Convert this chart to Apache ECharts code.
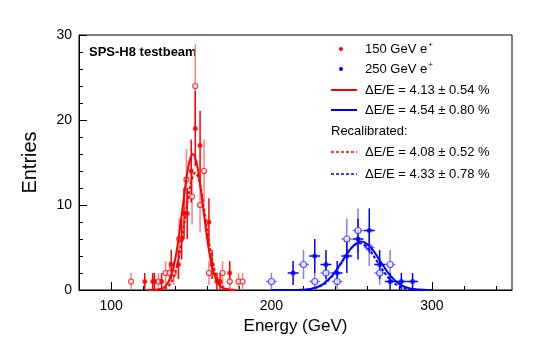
<!DOCTYPE html>
<html>
<head>
<meta charset="utf-8">
<script src="https://cdn.jsdelivr.net/npm/echarts@6/dist/echarts.min.js"></script>
<style>
  html, body { margin: 0; padding: 0; background: #fff; }
  #chart { width: 545px; height: 340px; }
</style>
</head>
<body>
<div id="chart"></div>
<script>
// ---- data ----
// 150 GeV e+ (filled markers)
const red150E   = [121, 126, 127, 131.5, 137.5, 142, 144, 145.5, 147.5, 150, 152.5, 155.5, 161, 163, 166, 168, 174];
const red150N   = [1, 1, 1, 1, 3, 3, 6, 9, 9, 14, 19, 17, 8, 3, 1, 1, 2];
const red150Err = [1, 1, 1, 1, 1.7, 1.7, 2.4, 3, 3, 3.7, 4.4, 4.1, 2.8, 1.7, 1, 1, 1.4];
// 150 GeV recalibrated (open markers)
const red150rE   = [112.5, 129.5, 134, 136.5, 139, 142.5, 147, 150.5, 152.5, 155.5, 158, 161, 169.5, 174, 179.5, 182];
const red150rN   = [1, 1, 2, 2, 2, 6, 13, 11, 24, 10, 14, 2, 2, 1, 1, 1];
const red150rErr = [1, 1, 1.4, 1.4, 1.4, 2.4, 3.6, 3.3, 4.9, 3.2, 3.7, 1.4, 1.4, 1, 1, 1];
// 250 GeV e+ (filled markers)
const blue250E   = [213.5, 227, 234, 241, 247, 254, 261, 267.5, 274, 281, 288];
const blue250N   = [2, 4, 3, 2, 4, 6, 7, 3, 1, 1, 1];
const blue250Err = [1.4, 2, 1.7, 1.4, 2, 2.4, 2.6, 1.7, 1, 1, 1];
// 250 GeV recalibrated (open markers)
const blue250rE   = [200, 220, 227, 234, 241, 247, 254, 261, 267.5, 274];
const blue250rN   = [1, 3, 1, 2, 1, 6, 7, 5, 2, 3];
const blue250rErr = [1, 1.7, 1, 1.4, 1, 2.4, 2.6, 2.2, 1.4, 1.7];

// fitted curves, points
const fitRedE  = [123, 128, 132, 135, 138, 141, 144, 147, 149, 151, 153, 155, 158, 161, 164, 167, 170, 174, 178];
const fitRedN  = [0, 0.03, 0.2, 0.7, 2.0, 4.7, 8.8, 13.2, 15.2, 16, 15.2, 13.2, 8.8, 4.7, 2.0, 0.7, 0.2, 0.03, 0];
const fitRedRE = [127, 132, 135, 138, 141, 144, 147, 150, 152.5, 155, 158, 161, 164, 167, 170, 173, 178];
const fitRedRN = [0, 0.08, 0.33, 1.06, 2.75, 5.7, 9.5, 12.8, 13.8, 12.8, 9.5, 5.7, 2.75, 1.06, 0.33, 0.08, 0];
const fitBlueE  = [200, 215, 225, 232, 238, 244, 250, 256, 262, 268, 274, 280, 287, 295, 300];
const fitBlueN  = [0, 0.01, 0.16, 0.67, 1.71, 3.34, 4.99, 5.7, 4.99, 3.34, 1.71, 0.67, 0.16, 0.02, 0];
const fitBlueRE = [205, 215, 225, 232, 238, 244, 250, 255, 260, 266, 272, 278, 285, 295, 300];
const fitBlueRN = [0, 0.01, 0.13, 0.62, 1.67, 3.34, 4.96, 5.5, 4.96, 3.34, 1.67, 0.62, 0.13, 0.01, 0];

const xMajor = [100, 200, 300];
const xMinor = [80, 120, 140, 160, 180, 220, 240, 260, 280, 320, 340];
const legendTexts = [
    'ΔE/E = 4.13 ± 0.54 %',
    'ΔE/E = 4.54 ± 0.80 %',
    'ΔE/E = 4.08 ± 0.52 %',
    'ΔE/E = 4.33 ± 0.78 %'
];

const RED = '#ff0000';
const BLUE = '#0000ff';
const FONT = 'Liberation Sans, Arial, sans-serif';

const chart = echarts.init(document.getElementById('chart'), null, { renderer: 'canvas' });

const zip = (a, b) => a.map((v, i) => [v, b[i]]);
const errData = (e, n, err, w) => e.map((v, i) => [v, n[i], err[i], w]);

function errSeries(data, color, width) {
    return {
        type: 'custom',
        xAxisIndex: 0,
        yAxisIndex: 0,
        clip: true,
        silent: true,
        data: data,
        renderItem: (params, api) => {
            const x = api.value(0), y = api.value(1), e = api.value(2), w = api.value(3);
            const top = api.coord([x, y + e]);
            const bot = api.coord([x, Math.max(y - e, 0)]);
            const l = api.coord([x - w, y]);
            const r = api.coord([x + w, y]);
            const style = { stroke: color, lineWidth: width };
            return {
                type: 'group',
                children: [
                    { type: 'line', shape: { x1: top[0], y1: top[1], x2: bot[0], y2: bot[1] }, style },
                    { type: 'line', shape: { x1: l[0], y1: l[1], x2: r[0], y2: r[1] }, style }
                ]
            };
        }
    };
}

function markSeries(data, color, open, size) {
    return {
        type: 'scatter',
        xAxisIndex: 0,
        yAxisIndex: 0,
        symbol: 'circle',
        symbolSize: size,
        silent: true,
        data: data,
        itemStyle: open
            ? { color: '#fff', borderColor: color, borderWidth: 1.2 }
            : { color: color }
    };
}

function fitSeries(data, color, dashed) {
    return {
        type: 'line',
        xAxisIndex: 0,
        yAxisIndex: 0,
        smooth: 0.35,
        showSymbol: false,
        silent: true,
        data: data,
        lineStyle: { color: color, width: 2, type: dashed ? [3, 2] : 'solid' }
    };
}

// legend rows (drawn with graphic)
const legendX = 331, textX = 365;
const rowY = [49, 69, 90, 110, 131, 152, 174];
const legendGraphics = [];
legendGraphics.push({ type: 'circle', shape: { cx: 341, cy: rowY[0], r: 2 }, style: { fill: RED } });
legendGraphics.push({ type: 'circle', shape: { cx: 341, cy: rowY[1], r: 2 }, style: { fill: BLUE } });
[['150', rowY[0]], ['250', rowY[1]]].forEach(([t, y]) => {
    legendGraphics.push({
        type: 'text', x: textX, y: y,
        style: {
            text: t + ' GeV e{sup|+}', font: '13px ' + FONT, fill: '#000', verticalAlign: 'middle',
            rich: { sup: { fontSize: 8, fontFamily: FONT, padding: [0, 0, 9, 1] } }
        }
    });
});
[[RED, false, rowY[2], 0], [BLUE, false, rowY[3], 1], [RED, true, rowY[5], 2], [BLUE, true, rowY[6], 3]].forEach(([c, d, y, i]) => {
    legendGraphics.push({
        type: 'line', shape: { x1: legendX, y1: y, x2: 357, y2: y },
        style: { stroke: c, lineWidth: d ? 1.5 : 2, lineDash: d ? [3, 2] : null }
    });
    legendGraphics.push({
        type: 'text', x: textX, y: y,
        style: { text: legendTexts[i], font: '13px ' + FONT, fill: '#000', verticalAlign: 'middle' }
    });
});
legendGraphics.push({
    type: 'text', x: legendX, y: rowY[4],
    style: { text: 'Recalibrated:', font: '13px ' + FONT, fill: '#000', verticalAlign: 'middle' }
});
legendGraphics.push({
    type: 'text', x: 89, y: 52,
    style: { text: 'SPS-H8 testbeam', font: 'bold 13px ' + FONT, fill: '#000', verticalAlign: 'middle' }
});

const option = {
    backgroundColor: '#fff',
    animation: false,
    textStyle: { fontFamily: FONT },
    grid: { left: 79, right: 33, top: 35, bottom: 50, show: true, borderColor: '#000', borderWidth: 1 },
    xAxis: [
        {
            type: 'value', min: 80, max: 350, position: 'bottom',
            name: 'Energy (GeV)', nameLocation: 'middle', nameGap: 28,
            nameTextStyle: { fontSize: 17, color: '#000', fontFamily: FONT },
            axisLine: { lineStyle: { color: '#000', width: 1 } },
            axisTick: { inside: true, length: 8, customValues: xMajor, lineStyle: { color: '#000' } },
            axisLabel: { customValues: xMajor, fontSize: 14, color: '#000', margin: 9, fontFamily: FONT },
            splitLine: { show: false }
        },
        {
            type: 'value', min: 80, max: 350, position: 'bottom',
            axisLine: { show: false },
            axisTick: { inside: true, length: 4, customValues: xMinor, lineStyle: { color: '#000' } },
            axisLabel: { show: false },
            splitLine: { show: false }
        }
    ],
    yAxis: [
        {
            type: 'value', min: 0, max: 30, interval: 10,
            name: 'Entries', nameLocation: 'middle', nameGap: 39, nameRotate: 90,
            nameTextStyle: { fontSize: 20, color: '#000', fontFamily: FONT },
            axisLine: { show: true, lineStyle: { color: '#000', width: 1 } },
            axisTick: { inside: true, length: 8, lineStyle: { color: '#000' } },
            axisLabel: { fontSize: 14, color: '#000', margin: 7, fontFamily: FONT },
            splitLine: { show: false }
        },
        {
            type: 'value', min: 0, max: 30, interval: 2, position: 'left',
            axisLine: { show: false },
            axisTick: { show: true, inside: true, length: 4, lineStyle: { color: '#000' } },
            axisLabel: { show: false },
            splitLine: { show: false }
        }
    ],
    graphic: legendGraphics,
    series: [
        errSeries(errData(red150rE, red150rN, red150rErr, 0.9), '#ff7f7f', 1.5),
        errSeries(errData(blue250rE, blue250rN, blue250rErr, 3.4), '#7f7fff', 1.5),
        errSeries(errData(red150E, red150N, red150Err, 0.9), RED, 1.5),
        errSeries(errData(blue250E, blue250N, blue250Err, 3.4), BLUE, 1.5),
        markSeries(zip(red150rE, red150rN), RED, true, 5),
        markSeries(zip(blue250rE, blue250rN), '#3030ff', true, 6),
        markSeries(zip(red150E, red150N), RED, false, 5),
        markSeries(zip(blue250E, blue250N), BLUE, false, 5),
        fitSeries(zip(fitRedE, fitRedN), RED, false),
        fitSeries(zip(fitBlueE, fitBlueN), BLUE, false),
        fitSeries(zip(fitRedRE, fitRedRN), RED, true),
        fitSeries(zip(fitBlueRE, fitBlueRN), BLUE, true)
    ]
};

try {
    chart.setOption(option);
} catch (error) {
    console.error('[EnergyChart] setOption error:', error);
}
</script>
</body>
</html>
